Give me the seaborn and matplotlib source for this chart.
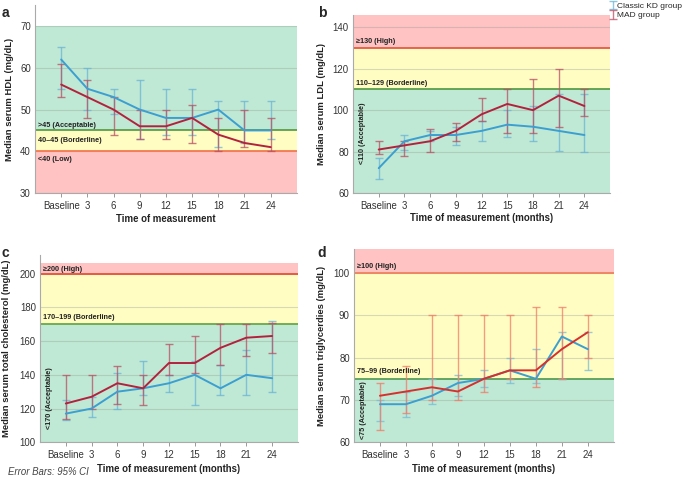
import numpy as np
import pandas as pd
import matplotlib
matplotlib.use("Agg")
import matplotlib.pyplot as plt
import seaborn as sns

# ---- data ----
months = ["Baseline", "3", "6", "9", "12", "15", "18", "21", "24"]

# a) HDL
hdl_kd = [62, 55, 53, 50, 48, 48, 50, 45, 45]
hdl_kd_lo = [55, 50, 49, 43, 44, 44, 41, 42, 43]
hdl_kd_hi = [65, 60, 55, 57, 55, 55, 52, 52, 52]
hdl_mad = [56, 53, 50, 46, 46, 48, 44, 42, 41]
hdl_mad_lo = [53, 48, 44, 43, 43, 42, 40, 41, 40]
hdl_mad_hi = [61, 57, 53, 50, 50, 51, 48, 50, 48]

# b) LDL
ldl_kd = [72, 85, 88, 88, 90, 93, 92, 90, 88]
ldl_kd_lo = [67, 81, 85, 83, 85, 87, 85, 80.5, 80]
ldl_kd_hi = [77, 88, 90, 92, 95, 100, 102, 108, 108]
ldl_mad = [81, 83, 85, 90, 98, 103, 100, 107, 102]
ldl_mad_lo = [79, 78, 80, 85, 95, 89, 89, 92, 97]
ldl_mad_hi = [85, 85, 91, 94, 106, 110, 115, 120, 110]

# c) total cholesterol
tc_kd = [117, 120, 130, 132, 135, 140, 132, 140, 138]
tc_kd_lo = [113, 115, 120, 128, 130, 122, 128, 128, 130]
tc_kd_hi = [125, 127, 141, 148, 140, 148, 146, 155, 172]
tc_mad = [123, 127, 135, 132, 147, 147, 156, 162, 163]
tc_mad_lo = [114, 120, 123, 122, 140, 141, 146, 151, 153]
tc_mad_hi = [140, 140, 145, 140, 158, 163, 170, 170, 171]

# d) triglycerides
tg_kd = [69, 69, 71, 74, 75, 77, 75, 85, 82]
tg_kd_lo = [65, 66, 69, 71, 73, 74, 74, 75, 77]
tg_kd_hi = [70, 72, 75, 76, 77, 80, 82, 86, 86]
tg_mad = [71, 72, 73, 72, 75, 77, 77, 82, 86]
tg_mad_lo = [63, 67, 70, 70, 72, 75, 73, 75, 80]
tg_mad_hi = [74, 78, 90, 90, 90, 90, 92, 92, 90]

# reference ranges: (low, high, zone)
hdl_zones = [(45, 70, "green"), (40, 45, "yellow"), (30, 40, "red")]
ldl_zones = [(60, 110, "green"), (110, 130, "yellow"), (130, 146, "red")]
tc_zones = [(100, 170, "green"), (170, 200, "yellow"), (200, 206, "red")]
tg_zones = [(60, 75, "green"), (75, 100, "yellow"), (100, 105.6, "red")]

# ---- style ----
sns.set_theme(style="white")
plt.rcParams["font.family"] = ["Liberation Sans", "DejaVu Sans"]

BLUE = "#3b9fd1"
DARKRED = "#b3223d"
zone_fill = {"green": "#bfe9d4", "yellow": "#fffdc2", "red": "#ffc3c3"}

fig = plt.figure(figsize=(6.82, 4.79), dpi=100)

panels = [
    dict(letter="a", rect=[0.0513, 0.597, 0.384, 0.392], ylim=(30, 75), yticks=[30, 40, 50, 60, 70],
         ylabel="Median serum HDL (mg/dL)", xlabel="Time of measurement",
         kd=(hdl_kd, hdl_kd_lo, hdl_kd_hi), mad=(hdl_mad, hdl_mad_lo, hdl_mad_hi),
         zones=hdl_zones, lines=[(45, "#5a9e4b"), (40, "#f47a50")],
         labels=[(">45 (Acceptable)", 46.3, 0), ("40\u201345 (Borderline)", 42.6, 0), ("<40 (Low)", 38.1, 0)],
         ylab_x=-0.082, xlab_y=-0.113, mad_col=DARKRED, mad_err="#b85064", kd_err="#6ab4d8"),
    dict(letter="b", rect=[0.5176, 0.597, 0.377, 0.372], ylim=(60, 146), yticks=[60, 80, 100, 120, 140],
         ylabel="Median serum LDL (mg/dL)", xlabel="Time of measurement (months)",
         kd=(ldl_kd, ldl_kd_lo, ldl_kd_hi), mad=(ldl_mad, ldl_mad_lo, ldl_mad_hi),
         zones=ldl_zones, lines=[(130, "#e55a45"), (110, "#5a9e4b")],
         labels=[("\u2265130 (High)", 133.3, 0), ("110\u2013129 (Borderline)", 112.8, 0),
                 ("<110 (Acceptable)", 89, 90)],
         ylab_x=-0.106, xlab_y=-0.113, mad_col=DARKRED, mad_err="#b85064", kd_err="#6ab4d8"),
    dict(letter="c", rect=[0.0587, 0.0766, 0.378, 0.391], ylim=(100, 211), yticks=[100, 120, 140, 160, 180, 200],
         ylabel="Median serum total cholesterol (mg/dL)", xlabel="Time of measurement (months)",
         kd=(tc_kd, tc_kd_lo, tc_kd_hi), mad=(tc_mad, tc_mad_lo, tc_mad_hi),
         zones=tc_zones, lines=[(200, "#e8503c"), (170, "#6aa84a")],
         labels=[("\u2265200 (High)", 202.6, 0), ("170\u2013199 (Borderline)", 173.7, 0),
                 ("<170 (Acceptable)", 126, 90)],
         ylab_x=-0.112, xlab_y=-0.116, mad_col=DARKRED, mad_err="#b85064", kd_err="#6ab4d8"),
    dict(letter="d", rect=[0.519, 0.0766, 0.381, 0.403], ylim=(60, 105.6), yticks=[60, 70, 80, 90, 100],
         ylabel="Median serum triglycerdies (mg/dL)", xlabel="Time of measurement (months)",
         kd=(tg_kd, tg_kd_lo, tg_kd_hi), mad=(tg_mad, tg_mad_lo, tg_mad_hi),
         zones=tg_zones, lines=[(100, "#f08060"), (75, "#5a9e5b")],
         labels=[("\u2265100 (High)", 101.5, 0), ("75\u201399 (Borderline)", 76.7, 0),
                 ("<75 (Acceptable)", 67.6, 90)],
         ylab_x=-0.109, xlab_y=-0.112, mad_col="#d6302e", mad_err="#f27a68", kd_err="#78bcd8"),
]

x = np.arange(len(months))
legend_handles = None

for p in panels:
    ax = fig.add_axes(p["rect"])
    # coloured reference zones
    for lo, hi, zone in p["zones"]:
        ax.axhspan(lo, hi, color=zone_fill[zone], zorder=0, lw=0)
    for yv, col in p["lines"]:
        ax.axhline(yv, color=col, lw=1.3, zorder=1.6)

    # long-format frame for seaborn
    kd_v, kd_lo, kd_hi = p["kd"]
    mad_v, mad_lo, mad_hi = p["mad"]
    df = pd.DataFrame({
        "pos": np.concatenate([x, x]),
        "value": kd_v + mad_v,
        "lo": kd_lo + mad_lo,
        "hi": kd_hi + mad_hi,
        "group": ["Classic KD group"] * len(x) + ["MAD group"] * len(x),
    })

    handles = []
    for grp, ecol in [("Classic KD group", p["kd_err"]), ("MAD group", p["mad_err"])]:
        d = df[df["group"] == grp]
        eb = ax.errorbar(d["pos"], d["value"],
                         yerr=[d["value"] - d["lo"], d["hi"] - d["value"]],
                         fmt="none", ecolor=ecol, elinewidth=1.0, capsize=2.6,
                         capthick=1.0, alpha=0.75, zorder=2, label=grp)
        handles.append(eb)
    if legend_handles is None:
        legend_handles = handles

    sns.lineplot(data=df, x="pos", y="value", hue="group",
                 palette={"Classic KD group": BLUE, "MAD group": p["mad_col"]},
                 hue_order=["Classic KD group", "MAD group"],
                 lw=1.4, legend=False, ax=ax, zorder=3)

    # zone labels
    for txt, yv, rot in p["labels"]:
        if rot == 0:
            ax.text(-0.88, yv, txt, fontsize=5.2, fontweight="bold", color="#222222",
                    va="center", ha="left", zorder=4)
        else:
            ax.text(-0.62, yv, txt, fontsize=5.2, fontweight="bold", color="#222222",
                    va="center", ha="center", rotation=90, zorder=4)

    ax.set_xlim(-1, 9)
    ax.set_ylim(*p["ylim"])
    ax.set_xticks(x)
    ax.set_xticklabels(months)
    ax.set_yticks(p["yticks"])
    ax.yaxis.grid(True, color="#8f9a94", alpha=0.35, lw=0.8, zorder=1)
    ax.xaxis.grid(False)
    ax.tick_params(axis="x", length=3, width=0.7, color="#999999", labelsize=6.9,
                   labelcolor="#333333", pad=2.5, bottom=True)
    ax.tick_params(axis="y", length=0, labelsize=6.9, labelcolor="#333333", pad=3, left=False)
    for s in ["top", "right"]:
        ax.spines[s].set_visible(False)
    for s in ["left", "bottom"]:
        ax.spines[s].set_color("#aaaaaa")
        ax.spines[s].set_linewidth(0.8)
    ax.set_xlabel(p["xlabel"], fontsize=6.9, fontweight="bold", color="#222222")
    ax.set_ylabel(p["ylabel"], fontsize=6.8, fontweight="bold", color="#222222")
    ax.xaxis.set_label_coords(0.5, p["xlab_y"])
    ax.yaxis.set_label_coords(p["ylab_x"], 0.5)

# panel letters
fig.text(0.002, 0.988, "a", fontsize=10, fontweight="bold", va="top")
fig.text(0.466, 0.988, "b", fontsize=10, fontweight="bold", va="top")
fig.text(0.002, 0.486, "c", fontsize=10, fontweight="bold", va="top")
fig.text(0.466, 0.486, "d", fontsize=10, fontweight="bold", va="top")

fig.text(0.012, 0.008, "Error Bars: 95% CI", fontsize=6.9, style="italic", color="#444444")

fig.legend(legend_handles, ["Classic KD group", "MAD group"], loc="upper left",
           bbox_to_anchor=(0.896, 0.995), frameon=False, fontsize=6.0,
           handlelength=0.45, handletextpad=0.3, labelspacing=0.15, borderaxespad=0,
           borderpad=0)

fig.savefig("out.png", dpi=100)
